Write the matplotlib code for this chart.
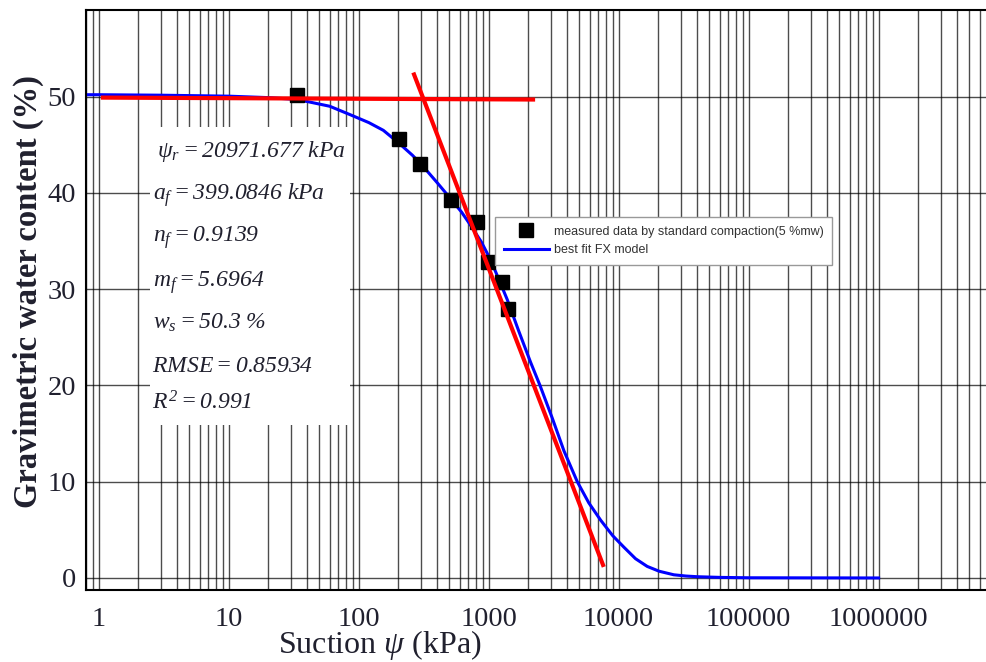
import matplotlib
matplotlib.use("Agg")
import matplotlib.pyplot as plt
from matplotlib.patches import Rectangle
from matplotlib.ticker import FixedLocator, LogLocator, NullFormatter

# measured points (suction kPa, gravimetric water content %)
suction_kpa = [33.6, 204.6, 296, 514, 815, 989, 1268, 1410]
water_pct = [50.2, 45.6, 43.0, 39.3, 37.0, 32.8, 30.7, 27.9]

# best-fit FX curve
fit_suction = [0.8, 1, 3, 10, 20, 30, 40, 60, 87, 120, 155, 207, 260, 316, 400, 510, 620,
               730, 880, 1040, 1200, 1393, 1700, 2105, 2485, 3090, 3800, 4810, 5900, 7280,
               9000, 10980, 13500, 16600, 20500, 26600, 33000, 40300, 60000, 100000, 1000000]
fit_water = [50.2, 50.2, 50.15, 50.05, 49.9, 49.75, 49.5, 49.0, 48.1, 47.3, 46.5, 45.1, 43.9,
             42.7, 41.1, 39.4, 38.0, 36.6, 34.9, 33.0, 31.0, 28.9, 25.7, 22.4, 20.0, 16.6,
             13.2, 10.0, 7.8, 6.0, 4.4, 3.2, 2.0, 1.2, 0.7, 0.33, 0.2, 0.13, 0.06, 0.02, 0.0]

# hand-drawn red construction lines (two end points each)
flat_suction = [1.08, 2197]
flat_water = [49.9, 49.7]
slope_suction = [267, 7590]
slope_water = [52.3, 1.35]

x_ticks = [1, 10, 100, 1000, 10000, 100000, 1000000]
x_ticklabels = ["1", "10", "100", "1000", "10000", "100000", "1000000"]
y_ticks = [0, 10, 20, 30, 40, 50]

fit_params = [
    r"$\psi_r = 20971.677\ kPa$",
    r"$a_f = 399.0846\ kPa$",
    r"$n_f = 0.9139$",
    r"$m_f = 5.6964$",
    r"$w_s = 50.3\ \%$",
    r"$RMSE = 0.85934$",
    r"$R^2 = 0.991$",
]

plt.rcParams["mathtext.fontset"] = "custom"
plt.rcParams["mathtext.rm"] = "Liberation Serif:italic"
plt.rcParams["mathtext.it"] = "Liberation Serif:italic"
plt.rcParams["mathtext.bf"] = "Liberation Serif:bold"

W, H = 987, 662
def fx(px): return px / W
def fy(py): return 1 - py / H

TXT = "#20202e"

fig = plt.figure(figsize=(W / 100, H / 100), dpi=100)
ax = fig.add_axes([fx(86), fy(590), 922.6 / W, 580 / H])
ax.set_xscale("log")
ax.set_axisbelow(True)

ax.plot(fit_suction, fit_water, color="#0000ff", lw=2.2, zorder=2, label="best fit FX model")
ax.plot(suction_kpa, water_pct, ls="none", marker="s", ms=9.5, color="black", zorder=3,
        label="measured data by standard compaction(5 %mw)")
ax.plot(flat_suction, flat_water, color="#ff0000", lw=3, zorder=4)
ax.plot(slope_suction, slope_water, color="#ff0000", lw=3, zorder=4)

ax.set_xlim(0.8, 1e7)
ax.set_ylim(-1.25, 59.0)

ax.xaxis.set_major_locator(FixedLocator(x_ticks))
ax.set_xticklabels(x_ticklabels)
ax.xaxis.set_minor_locator(LogLocator(base=10, subs=range(2, 10), numticks=50))
ax.xaxis.set_minor_formatter(NullFormatter())
ax.set_yticks(y_ticks)

ax.grid(True, which="both", axis="x", color="black", lw=1.0, alpha=0.7)
ax.grid(True, which="major", axis="y", color="black", lw=1.0, alpha=0.7)
ax.tick_params(which="both", length=0)
ax.tick_params(axis="x", pad=12, labelsize=20.5, labelcolor=TXT)
ax.tick_params(axis="y", pad=7, labelsize=20.5, labelcolor=TXT)
for lab in ax.get_xticklabels() + ax.get_yticklabels():
    lab.set_family("Liberation Serif")
for s in ("top", "left", "bottom"):
    ax.spines[s].set_linewidth(1.5)
ax.spines["right"].set_visible(False)

# white box behind the fit parameters (hides the grid)
box = Rectangle((fx(150), fy(425)), 200 / W, 298 / H, transform=fig.transFigure,
                facecolor="white", edgecolor="none", zorder=1)
ax.add_patch(box)

baselines = [157, 200, 242, 287, 329, 372, 410]
lefts = [157, 153, 153, 153, 153, 152, 152]
for txt, by, lx in zip(fit_params, baselines, lefts):
    fig.text(fx(lx), fy(by), txt, fontsize=17, color=TXT, va="baseline", ha="left")

# legend
h, l = ax.get_legend_handles_labels()
leg = ax.legend(h[::-1], l[::-1], loc="upper left", bbox_to_anchor=(fx(495), fy(217)),
                bbox_transform=fig.transFigure, prop={"family": "Liberation Sans", "size": 9},
                fancybox=False, edgecolor="#999999", framealpha=1, borderaxespad=0,
                borderpad=0.7, handlelength=3.6, handletextpad=0.4, labelspacing=0.5)
leg.get_frame().set_linewidth(1.0)
for t in leg.get_texts():
    t.set_color("#333333")

fig.text(fx(28), fy(292), "Gravimetric water content (%)", rotation=90, ha="center", va="center",
         family="Liberation Serif", weight="bold", fontsize=23.5, color=TXT)
fig.text(fx(380), fy(645), r"Suction $\psi$ (kPa)", ha="center", va="center",
         family="Liberation Serif", fontsize=23, color=TXT)

fig.savefig("out.png", dpi=100)
